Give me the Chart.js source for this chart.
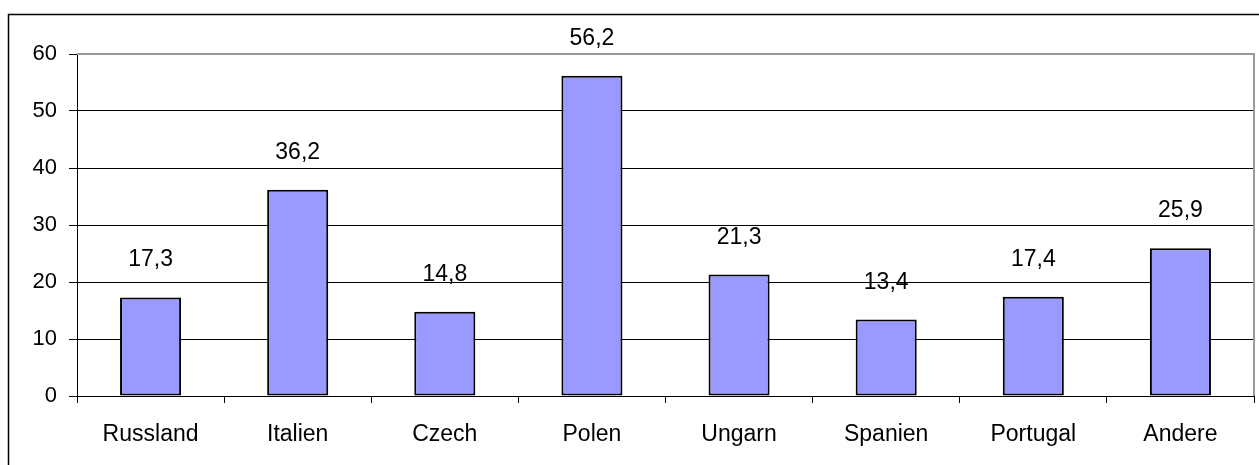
<!DOCTYPE html>
<html>
<head>
<meta charset="utf-8">
<script src="https://cdn.jsdelivr.net/npm/chart.js@4"></script>
<style>
	html, body { margin: 0; padding: 0; background: #fff; }
	canvas { display: block; }
</style>
</head>
<body>
<canvas id="chart" width="1259" height="465"></canvas>
<script>
const categories = ['Russland', 'Italien', 'Czech', 'Polen', 'Ungarn', 'Spanien', 'Portugal', 'Andere'];
const values = [17.3, 36.2, 14.8, 56.2, 21.3, 13.4, 17.4, 25.9];
const y_min = 0;
const y_max = 60;
const y_step = 10;

const font_family = '"Liberation Sans", Arial, sans-serif';

// outer frame + gray plot border
const frame_plugin = {
	id: 'frame',
	beforeDraw(chart){
		const ctx = chart.ctx;
		ctx.save();
		ctx.fillStyle = '#fff';
		ctx.fillRect(0, 0, chart.width, chart.height);
		ctx.strokeStyle = '#000';
		ctx.lineWidth = 1.5;
		ctx.strokeRect(8.5, 14.5, chart.width + 10, chart.height + 10);
		ctx.restore();
	},
	afterDatasetsDraw(chart){
		const ctx = chart.ctx;
		const a = chart.chartArea;
		ctx.save();
		ctx.strokeStyle = '#999';
		ctx.lineWidth = 2;
		ctx.beginPath();
		ctx.moveTo(a.left, a.top);
		ctx.lineTo(a.right, a.top);
		ctx.lineTo(a.right, a.bottom);
		ctx.stroke();
		ctx.restore();
	}
};

// value labels above the bars, with a decimal comma
const label_plugin = {
	id: 'valueLabels',
	afterDatasetsDraw(chart){
		const ctx = chart.ctx;
		const meta = chart.getDatasetMeta(0);
		ctx.save();
		ctx.fillStyle = '#000';
		ctx.font = '23px ' + font_family;
		ctx.textAlign = 'center';
		ctx.textBaseline = 'alphabetic';
		meta.data.forEach(function(bar, i){
			const text = values[i].toFixed(1).replace('.', ',');
			ctx.fillText(text, bar.x, bar.y - 31);
		});
		ctx.restore();
	}
};

const ctx = document.getElementById('chart').getContext('2d');

new Chart(ctx, {
	type: 'bar',
	data: {
		labels: categories,
		datasets: [{
			data: values,
			backgroundColor: '#9999FF',
			borderColor: '#000',
			borderWidth: 2,
			borderSkipped: false,
			barPercentage: 0.415,
			categoryPercentage: 1
		}]
	},
	options: {
		responsive: false,
		animation: false,
		devicePixelRatio: 1,
		layout: {
			padding: { top: 54, right: 5, left: 0, bottom: 0 }
		},
		plugins: {
			legend: { display: false },
			tooltip: { enabled: false }
		},
		scales: {
			x: {
				afterFit: function(scale){ scale.height = 69; },
				grid: {
					offset: true,
					drawOnChartArea: false,
					drawTicks: true,
					tickLength: 7,
					color: '#000',
					lineWidth: 1
				},
				border: { display: true, color: '#000', width: 1 },
				ticks: {
					color: '#000',
					font: { family: font_family, size: 23 },
					padding: 18,
					maxRotation: 0
				}
			},
			y: {
				min: y_min,
				max: y_max,
				afterFit: function(scale){ scale.width = 77; },
				grid: {
					color: function(c){ return c.tick && c.tick.value === y_max ? '#999' : '#000'; },
					tickColor: '#000',
					tickLength: 8,
					lineWidth: 1
				},
				border: { display: true, color: '#000', width: 1 },
				ticks: {
					stepSize: y_step,
					color: '#000',
					font: { family: font_family, size: 22 },
					padding: 12
				}
			}
		}
	},
	plugins: [frame_plugin, label_plugin]
});
</script>
</body>
</html>
